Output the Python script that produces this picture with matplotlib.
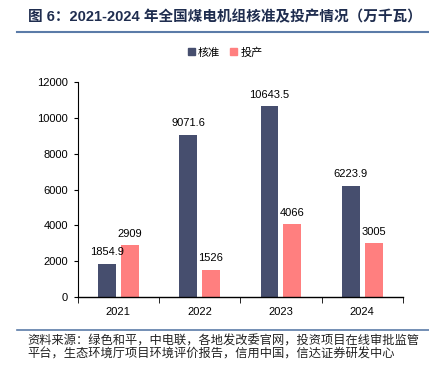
import numpy as np
import matplotlib.pyplot as plt
from matplotlib.lines import Line2D
from matplotlib.patches import Patch

plt.rcParams['font.family'] = ['Liberation Sans', 'Noto Sans CJK SC']

# data
years = ['2021', '2022', '2023', '2024']
approved = [1854.9, 9071.6, 10643.5, 6223.9]
commissioned = [2909, 1526, 4066, 3005]
approved_labels = ['1854.9', '9071.6', '10643.5', '6223.9']
commissioned_labels = ['2909', '1526', '4066', '3005']

c_blue = '#464e6e'
c_pink = '#ff7f7f'

fig = plt.figure(figsize=(4.29, 3.68), dpi=100)
ax = fig.add_axes([0.181, 0.193, 0.758, 0.584])

x = np.arange(len(years))
w = 0.22
off = 0.14
b1 = ax.bar(x - off, approved, w, color=c_blue, label='核准')
b2 = ax.bar(x + off, commissioned, w, color=c_pink, label='投产')

for rect, lab in zip(b1, approved_labels):
    ax.text(rect.get_x() + rect.get_width() / 2, rect.get_height() + 350, lab,
            ha='center', va='bottom', fontsize=8, color='black')
for rect, lab in zip(b2, commissioned_labels):
    ax.text(rect.get_x() + rect.get_width() / 2, rect.get_height() + 350, lab,
            ha='center', va='bottom', fontsize=8, color='black')

ax.set_xlim(-0.5, len(years) - 0.5)
ax.set_ylim(0, 12000)
ax.set_yticks(np.arange(0, 12001, 2000))
ax.tick_params(axis='y', labelsize=8, length=3, direction='out', pad=4)
ax.set_xticks(x)
ax.set_xticklabels(years)
ax.tick_params(axis='x', labelsize=8, length=0, pad=7)
ax.set_xticks(np.arange(-0.5, len(years), 1), minor=True)
ax.tick_params(axis='x', which='minor', length=4, direction='out')
ax.spines['top'].set_visible(False)
ax.spines['right'].set_visible(False)
ax.spines['left'].set_linewidth(0.8)
ax.spines['bottom'].set_linewidth(1.0)

handles = [Patch(color=c_blue), Patch(color=c_pink)]
fig.legend(handles, ['核准', '投产'], loc='center', bbox_to_anchor=(0.525, 0.858),
           ncol=2, frameon=False, fontsize=8, handlelength=0.6, handleheight=0.6,
           handletextpad=0.3, columnspacing=0.9)

# title and footer
fig.text(0.065, 0.953, '图 6：2021-2024 年全国煤电机组核准及投产情况（万千瓦）',
         fontsize=10.5, fontweight='bold', color='#1f2d4f', va='center', ha='left')
fig.add_artist(Line2D([0.04, 1.0], [0.913, 0.913], color='#5b7ba8', lw=1.5))
fig.add_artist(Line2D([0.04, 1.0], [0.103, 0.103], color='#5b7ba8', lw=1.2))
fig.text(0.063, 0.071, '资料来源：绿色和平，中电联，各地发改委官网，投资项目在线审批监管',
         fontsize=8.8, style='italic', color='#222222', va='center', ha='left')
fig.text(0.063, 0.037, '平台，生态环境厅项目环境评价报告，信用中国，信达证券研发中心',
         fontsize=8.8, style='italic', color='#222222', va='center', ha='left')

fig.savefig('out.png', dpi=100)
plt.close()
